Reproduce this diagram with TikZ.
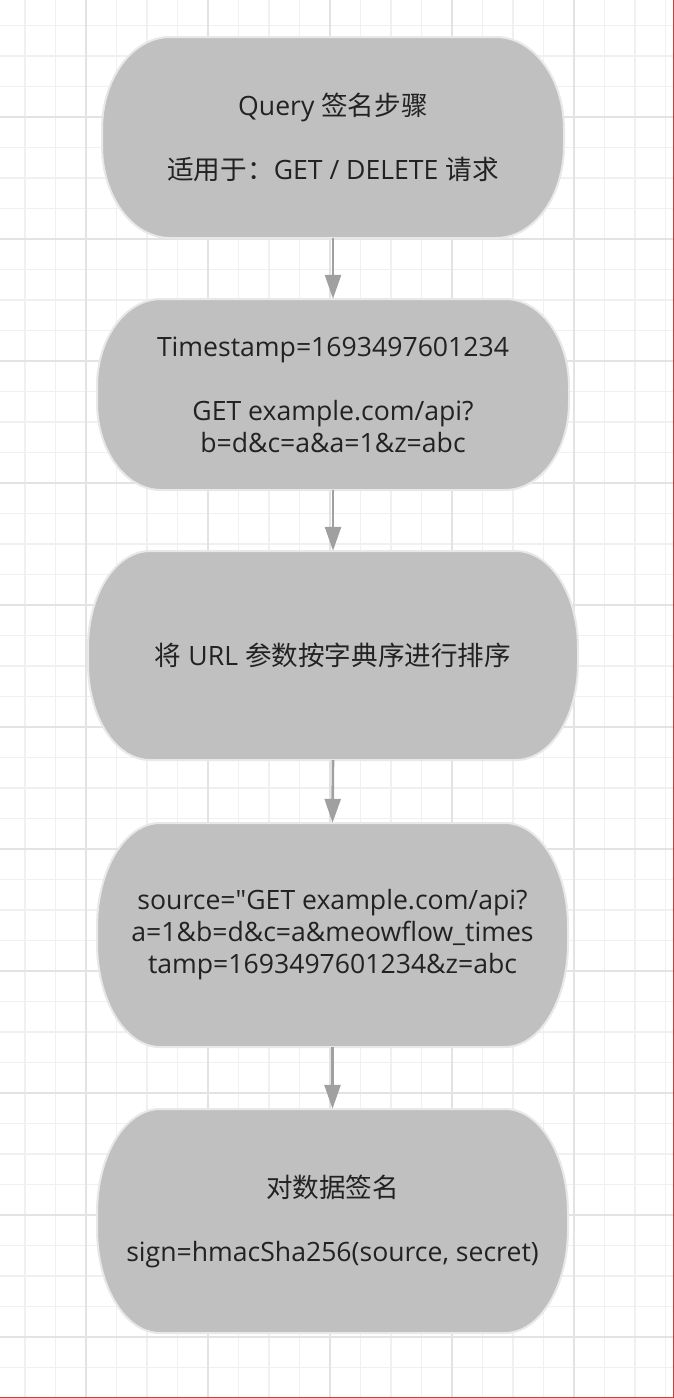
\documentclass[tikz,border=0pt]{standalone}
\usepackage{fontspec}
\setmainfont{Open Sans}[Ligatures=TeXOff]
\newfontfamily\cjk{Noto Sans CJK SC}
\usetikzlibrary{arrows.meta}
\definecolor{gridminor}{HTML}{F0F0F0}
\definecolor{gridmajor}{HTML}{E3E3E3}
\definecolor{boxfillc}{HTML}{C0C0C0}
\definecolor{boxline}{HTML}{E8E8E8}
\definecolor{arrowc}{HTML}{A0A0A0}
\definecolor{textc}{HTML}{222222}
\definecolor{edgered}{HTML}{D03A3A}
\tikzset{
  minorline/.style={draw=gridminor, line width=1.6pt},
  majorline/.style={draw=gridmajor, line width=1.6pt},
  boxshape/.style={fill=boxfillc, draw=boxline, line width=2pt},
  boxtext/.style={rectangle, inner sep=0pt, align=center, text=textc,
    font=\fontsize{26.6}{32}\selectfont},
  flowarrow/.style={draw=arrowc, line width=2.6pt, -{Triangle[width=16pt,length=24pt]}},
}
% #1 name, #2 cx, #3 cy (downward), #4 w, #5 h, #6 rx, #7 text
\newcommand\stadbox[7]{%
  \pgfmathsetmacro\sL{#2-#4/2}\pgfmathsetmacro\sR{#2+#4/2}%
  \pgfmathsetmacro\sT{-#3+#5/2}\pgfmathsetmacro\sB{-#3-#5/2}%
  \pgfmathsetmacro\sry{#5/2-8}%
  \path[boxshape] (\sL+#6,\sT) -- (\sR-#6,\sT)
    arc[start angle=90,end angle=0,x radius=#6,y radius=\sry]
    -- (\sR,\sB+\sry)
    arc[start angle=0,end angle=-90,x radius=#6,y radius=\sry]
    -- (\sL+#6,\sB)
    arc[start angle=-90,end angle=-180,x radius=#6,y radius=\sry]
    -- (\sL,\sT-\sry)
    arc[start angle=180,end angle=90,x radius=#6,y radius=\sry] -- cycle;
  \node[boxtext, minimum width=#4pt, minimum height=#5pt] (#1) at (#2,-#3) {#7};%
}
\begin{document}
\begin{tikzpicture}[x=1pt,y=1pt]
\useasboundingbox (0,0) rectangle (674,-1398);
\fill[white] (0,0) rectangle (674,-1398);
% grid
\foreach \k in {-2,...,19} {\draw[minorline] ({86+30.5*\k},0) -- ({86+30.5*\k},-1398);}
\foreach \k in {-3,...,41} {\draw[minorline] (0,{-117-30.5*\k}) -- (674,{-117-30.5*\k});}
\foreach \m in {0,...,4} {\draw[majorline] ({86+122*\m},0) -- ({86+122*\m},-1398);}
\foreach \m in {0,...,10} {\draw[majorline] (0,{-117-122*\m}) -- (674,{-117-122*\m});}
\draw[edgered, line width=1pt] (673.5,0) -- (673.5,-1397.5) -- (0,-1397.5);
% boxes
\stadbox{b1}{333}{137.5}{462}{201}{68}{Query {\cjk 签名步骤}\\[32pt]{\cjk 适用于：}GET / DELETE {\cjk 请求}}
\stadbox{b2}{333}{394.5}{472}{191}{64}{Timestamp=1693497601234\\[32pt]GET example.com/api?\\b=d\&c=a\&a=1\&z=abc}
\stadbox{b3}{333}{655.5}{490}{209}{62}{{\cjk 将} URL {\cjk 参数按字典序进行排序}}
\stadbox{b4}{332.5}{935}{471}{224}{63}{source="GET example.com/api?\\a=1\&b=d\&c=a\&meowflow\_times\\tamp=1693497601234\&z=abc}
\stadbox{b5}{332.5}{1221}{471}{224}{63}{{\cjk 对数据签名}\\[32pt]sign=hmacSha256(source, secret)}
% connectors
\draw[flowarrow] (b1.south) -- (b2.north);
\draw[flowarrow] (b2.south) -- (b3.north);
\draw[flowarrow] (b3.south) -- (b4.north);
\draw[flowarrow] (b4.south) -- (b5.north);
\end{tikzpicture}
\end{document}
